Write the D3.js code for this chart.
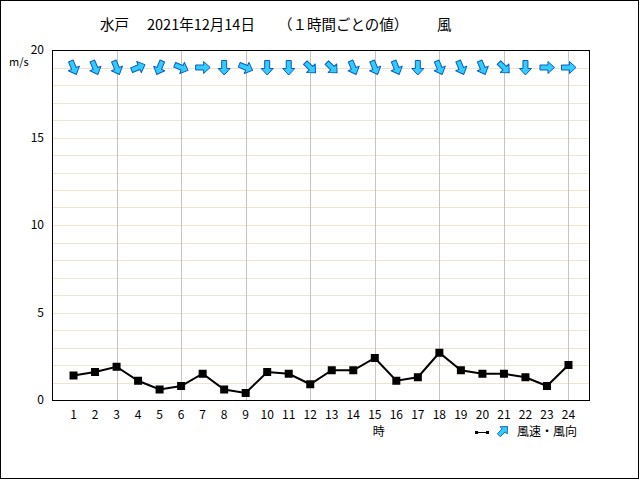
<!DOCTYPE html>
<html><head><meta charset="utf-8">
<script src="https://cdn.jsdelivr.net/npm/d3@7"></script>
<style>
body{margin:0;background:#fff;}
text{font-family:"Noto Sans CJK JP","DejaVu Sans",sans-serif;fill:#000;}
</style></head>
<body><svg id="c" width="640" height="480"></svg>
<script>
const hours = d3.range(1,25);
const speeds = [1.4,1.6,1.9,1.1,0.6,0.8,1.5,0.6,0.4,1.6,1.5,0.9,1.7,1.7,2.4,1.1,1.3,2.7,1.7,1.5,1.5,1.3,0.8,2.0];
const directions = ["北北西","北北西","北北西","西南西","北北東","西北西","西","北","西北西","北","北","北西",
                    "北西","北北西","北北西","北北西","北","北北西","北北西","北北西","北西","北","西","西"];
const compass = ["北","北北東","北東","東北東","東","東南東","南東","南南東","南","南南西","南西","西南西","西","西北西","北西","北北西"];
const yTicks = [0,5,10,15,20];
const titleParts = ["水戸","2021年12月14日","（１時間ごとの値）","風"];

const svg = d3.select("#c");
const L=52,R=590,T=50,B=400;
const x = d3.scaleLinear().domain([0,25]).range([L,R]);
const y = d3.scaleLinear().domain([0,20]).range([B,T]);

svg.append("rect").attr("x",0.5).attr("y",0.5).attr("width",638).attr("height",478)
  .attr("fill","#fff").attr("stroke","#000");

// horizontal minor grid
svg.append("g").attr("shape-rendering","crispEdges").selectAll("line").data(d3.range(1,20)).join("line")
  .attr("x1",L).attr("x2",R).attr("y1",d=>Math.round(y(d))+0.5).attr("y2",d=>Math.round(y(d))+0.5)
  .attr("stroke","#efe4cc").attr("stroke-width",1);
// vertical grid
svg.append("g").attr("shape-rendering","crispEdges").selectAll("line").data(d3.range(3,25,3)).join("line")
  .attr("y1",T).attr("y2",B).attr("x1",d=>Math.round(x(d))+0.5).attr("x2",d=>Math.round(x(d))+0.5)
  .attr("stroke","#c4c4c4").attr("stroke-width",1);

svg.append("rect").attr("shape-rendering","crispEdges").attr("x",L+0.5).attr("y",T+0.5).attr("width",R-L-1).attr("height",B-T)
  .attr("fill","none").attr("stroke","#000");

// y tick labels
svg.append("g").selectAll("text").data(yTicks).join("text")
  .attr("x",44).attr("y",d=>y(d)).attr("dy","0.35em").attr("text-anchor","end")
  .attr("font-size",12).text(d=>d);
svg.append("text").attr("x",9).attr("y",66).attr("font-size",11).text("m/s");

// x tick labels
svg.append("g").selectAll("text").data(hours).join("text")
  .attr("x",d=>x(d)).attr("y",415).attr("dy","0.35em").attr("text-anchor","middle")
  .attr("font-size",12).text(d=>d);
svg.append("text").attr("x",x(15)+4).attr("y",432).attr("dy","0.35em").attr("text-anchor","middle")
  .attr("font-size",12).text("時");

// title
const tx=[100,147,278,437];
svg.append("g").selectAll("text").data(titleParts).join("text")
  .attr("x",(d,i)=>tx[i]).attr("y",25).attr("dy","0.35em").attr("font-size",14.5).text(d=>d);

// line
const line = d3.line().x((d,i)=>x(hours[i])).y(d=>y(d));
svg.append("path").datum(speeds).attr("d",line).attr("fill","none").attr("stroke","#000").attr("stroke-width",2);
svg.append("g").selectAll("rect").data(speeds).join("rect")
  .attr("x",(d,i)=>x(hours[i])-4).attr("y",d=>y(d)-4).attr("width",8).attr("height",8).attr("fill","#000");

// arrows
const arrowPath = "M0,-7.5 L6,-1 L2.5,-1 L2.5,7 L-2.5,7 L-2.5,-1 L-6,-1 Z";
function rot(dir){ return compass.indexOf(dir)*22.5+180; }
svg.append("g").selectAll("path").data(directions).join("path")
  .attr("d",arrowPath)
  .attr("transform",(d,i)=>`translate(${x(hours[i])},${y(19)}) rotate(${rot(d)})`)
  .attr("fill","#33ccff").attr("stroke","#0a5cc0").attr("stroke-width",1).attr("stroke-linejoin","round");

// legend
svg.append("line").attr("x1",477).attr("x2",487).attr("y1",432.5).attr("y2",432.5).attr("stroke","#000").attr("stroke-width",1);
svg.append("rect").attr("x",475).attr("y",431).attr("width",3).attr("height",3).attr("fill","#000");
svg.append("rect").attr("x",486).attr("y",431).attr("width",3).attr("height",3).attr("fill","#000");
svg.append("path").attr("d",arrowPath).attr("transform","translate(503,431) rotate(45) scale(0.85)")
  .attr("fill","#33ccff").attr("stroke","#0a5cc0").attr("stroke-width",1);
svg.append("text").attr("x",517).attr("y",432).attr("dy","0.35em").attr("font-size",12).text("風速・風向");
</script></body></html>
